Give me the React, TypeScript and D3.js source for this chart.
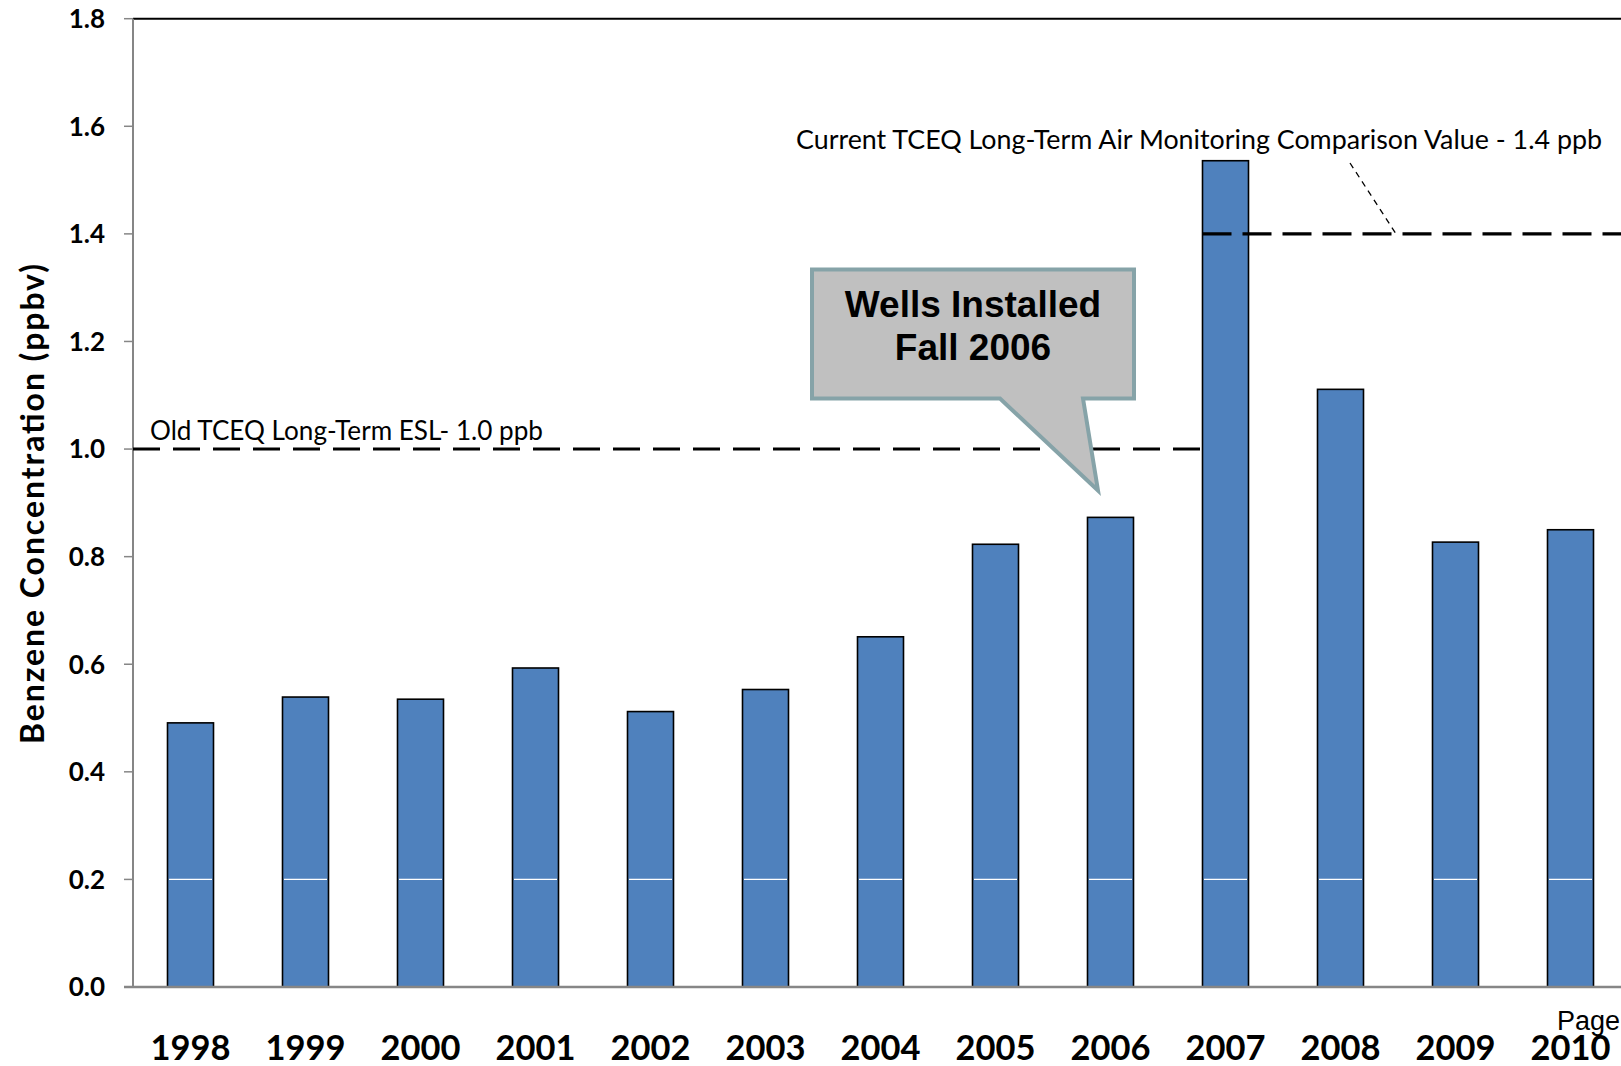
import React from "react";
import * as d3 from "d3";

const years = ["1998","1999","2000","2001","2002","2003","2004","2005","2006","2007","2008","2009","2010"];
const benzene = [0.491,0.539,0.535,0.593,0.512,0.553,0.651,0.823,0.873,1.536,1.111,0.827,0.850];
const yTicks = [0.0,0.2,0.4,0.6,0.8,1.0,1.2,1.4,1.6,1.8];
const oldESL = 1.0;
const currentAMCV = 1.4;
const oldLabel = "Old TCEQ Long-Term ESL- 1.0 ppb";
const currentLabel = "Current TCEQ Long-Term Air Monitoring Comparison Value - 1.4 ppb";
const calloutLines = ["Wells Installed", "Fall 2006"];
const yTitle = "Benzene Concentration  (ppbv)";

const W = 1621, H = 1066;
const X0 = 133, X1 = 1628, Y0 = 987, Y1 = 18.7;

export default function App() {
  const x = d3.scaleBand<string>().domain(years).range([X0, X1]).paddingInner(0.6).paddingOuter(0.3);
  const y = d3.scaleLinear().domain([0, 1.8]).range([Y0, Y1]);
  const bw = x.bandwidth();
  const switchX = x("2007")!;
  const font = "Lato, 'Open Sans', sans-serif";

  // callout geometry derived from scales
  const tipX = x("2006")! + 10.5;
  const tipY = y(0.923);
  const rL = x("2005")! - 160.5, rR = rL + 322;
  const rT = y(1.334), rB = y(1.094);
  const bL = rL + 188, bR = rL + 271;
  const cx = (rL + rR) / 2;

  return (
    <svg width={W} height={H} style={{ position: "absolute", left: 0, top: 0, background: "#fff" }}>
      <rect x={0} y={0} width={W} height={H} fill="#fff" />
      {/* top border */}
      <line x1={X0} x2={W + 10} y1={Y1} y2={Y1} stroke="#000" strokeWidth={2} />
      {/* bars */}
      {years.map((yr, i) => (
        <g key={yr}>
          <rect x={x(yr)!} y={y(benzene[i])} width={bw} height={Y0 - y(benzene[i])} fill="#4f81bd" stroke="#000" strokeWidth={1.6} />
          <line x1={x(yr)! + 1.5} x2={x(yr)! + bw - 1.5} y1={y(0.2)} y2={y(0.2)} stroke="#fff" strokeWidth={1.3} />
        </g>
      ))}
      {/* y axis */}
      <line x1={X0} x2={X0} y1={Y1} y2={Y0} stroke="#868686" strokeWidth={2} />
      {yTicks.map((t) => (
        <g key={t}>
          <line x1={X0 - 9} x2={X0} y1={y(t)} y2={y(t)} stroke="#868686" strokeWidth={1.5} />
          <text x={105} y={y(t)} dy="0.36em" textAnchor="end" fontFamily={font} fontWeight={700} fontSize={26} fill="#000">
            {t.toFixed(1)}
          </text>
        </g>
      ))}
      {/* x axis */}
      <line x1={X0 - 9} x2={W + 10} y1={Y0} y2={Y0} stroke="#868686" strokeWidth={2.5} />
      {years.map((yr) => (
        <text key={yr} x={x(yr)! + bw / 2} y={1060} textAnchor="middle" fontFamily={font} fontWeight={700} fontSize={34.5} fill="#000">
          {yr}
        </text>
      ))}
      {/* reference lines */}
      <line x1={X0} x2={switchX} y1={y(oldESL)} y2={y(oldESL)} stroke="#000" strokeWidth={3} strokeDasharray="27,13" />
      <line x1={switchX} x2={W + 10} y1={y(currentAMCV)} y2={y(currentAMCV)} stroke="#000" strokeWidth={3.2} strokeDasharray="29,11" />
      <text x={150} y={440} fontFamily={font} fontSize={26} textLength={393} lengthAdjust="spacingAndGlyphs" fill="#000">{oldLabel}</text>
      <text x={796} y={149} fontFamily={font} fontSize={26.5} textLength={806} lengthAdjust="spacingAndGlyphs" fill="#000">{currentLabel}</text>
      <line x1={1350} y1={163} x2={1396} y2={y(currentAMCV)} stroke="#000" strokeWidth={1.3} strokeDasharray="6,5" />
      {/* callout */}
      <path
        d={`M${rL},${rT} L${rR},${rT} L${rR},${rB} L${bR},${rB} L${tipX},${tipY} L${bL},${rB} L${rL},${rB} Z`}
        fill="#c0c0c0" stroke="#86a3a8" strokeWidth={4} strokeLinejoin="miter"
      />
      {calloutLines.map((l, i) => (
        <text key={l} x={cx} y={317 + i * 43} textAnchor="middle" fontFamily="'Liberation Sans', Arial, sans-serif" fontWeight={700} fontSize={37} fill="#000">
          {l}
        </text>
      ))}
      {/* y title */}
      <text transform={`translate(44,504) rotate(-90)`} textAnchor="middle" fontFamily={font} fontWeight={700} fontSize={32} textLength={480} lengthAdjust="spacing" fill="#000">
        {yTitle}
      </text>
      {/* page footer fragment */}
      <text x={1557} y={1030} fontFamily="'Liberation Sans', Arial, sans-serif" fontSize={27} fill="#000">Page</text>
    </svg>
  );
}
